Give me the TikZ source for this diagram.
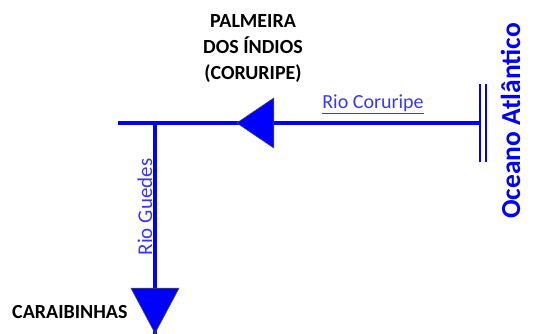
\documentclass[tikz,border=0pt]{standalone}
\usepackage{fontspec}
\setmainfont{Carlito}
\usepackage{tikz}
\usetikzlibrary{shapes.geometric}
\definecolor{riverblue}{RGB}{0,0,255}
\definecolor{labelblue}{RGB}{55,55,255}
\tikzset{river/.style={riverblue,line width=4pt},
  flow mark/.style={isosceles triangle,isosceles triangle stretches,fill=riverblue,draw=black!70,line width=0.6pt,inner sep=0pt},
  town/.style={font=\fontsize{20}{26}\selectfont\bfseries,inner sep=0pt},
  river name/.style={labelblue,font=\fontsize{20}{24}\selectfont,inner sep=0pt},}

\begin{document}
\begin{tikzpicture}[x=1pt,y=-1pt]
       \useasboundingbox (0,0) rectangle (551,334);
       \coordinate (west) at (118,123);
       \coordinate (junction) at (155,123);
       \coordinate (mouth) at (480,123);
       \coordinate (south) at (155,334);

       \draw[river] (west) -- (mouth);
       \draw[river] (junction) -- (south);

       \node[flow mark,shape border rotate=180,minimum width=50pt,minimum height=37pt,anchor=apex] (upstream) at (236,123) {};
       \node[flow mark,shape border rotate=270,minimum width=48pt,minimum height=45pt,anchor=apex] (downstream) at (155,334) {};

       \draw[riverblue,line width=1.5pt] (480,84) -- (480,162)
             (486,84) -- (486,162);

       \node[town,align=center,anchor=north] (palmeira) at (253,14) {PALMEIRA\\DOS ÍNDIOS\\(CORURIPE)};
       \node[town,anchor=base west] (caraibinhas) at (12,318) {CARAIBINHAS};
       \node[river name,anchor=base] (coruripe) at (373,109) {\underline{Rio Coruripe}};
       \node[river name,font=\fontsize{21}{24}\selectfont,rotate=90,anchor=base] (guedes) at (152,207) {Rio Guedes};
       \node[riverblue,font=\fontsize{27.5}{30}\selectfont\bfseries,rotate=90,anchor=base,inner sep=0pt] (oceano) at (520,121) {Oceano Atlântico};
\end{tikzpicture}
\end{document}
